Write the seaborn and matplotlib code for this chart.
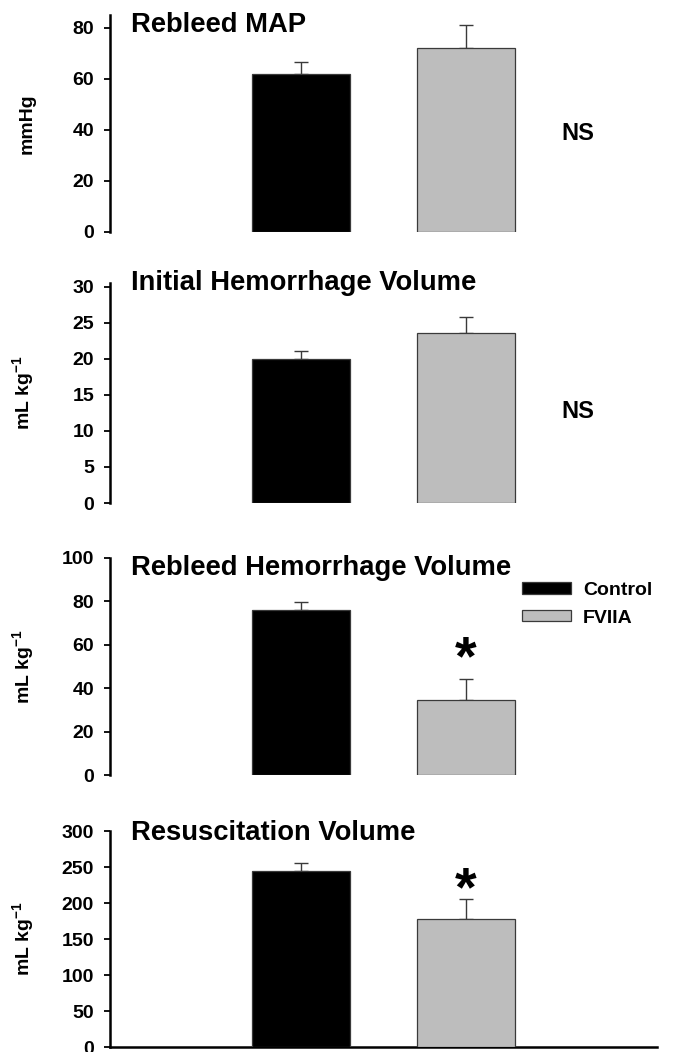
import matplotlib
matplotlib.use("Agg")
import matplotlib.pyplot as plt
import seaborn as sns
import pandas as pd

groups = ["Control", "FVIIA"]
colors = ["#000000", "#bdbdbd"]

titles = ["Rebleed MAP", "Initial Hemorrhage Volume", "Rebleed Hemorrhage Volume", "Resuscitation Volume"]
ylabels = ["mmHg", r"mL kg$^{\mathbf{-1}}$", r"mL kg$^{\mathbf{-1}}$", r"mL kg$^{\mathbf{-1}}$"]
rebleed_map = [62, 72]
rebleed_map_err = [4.7, 9.0]
initial_vol = [20.0, 23.6]
initial_vol_err = [1.1, 2.2]
rebleed_vol = [76, 34.6]
rebleed_vol_err = [3.7, 9.6]
resus_vol = [244, 178]
resus_vol_err = [11, 27]
yticks = [[0, 20, 40, 60, 80], [0, 5, 10, 15, 20, 25, 30], [0, 20, 40, 60, 80, 100], [0, 50, 100, 150, 200, 250, 300]]
ylims = [85, 30.5, 100, 300]
annotations = ["NS", "NS", "*", "*"]

sns.set_theme(style="ticks")
plt.rcParams["font.family"] = ["Liberation Sans", "DejaVu Sans"]
plt.rcParams["font.weight"] = "bold"
plt.rcParams["mathtext.fontset"] = "custom"
plt.rcParams["mathtext.rm"] = "Liberation Sans:bold"
plt.rcParams["mathtext.bf"] = "Liberation Sans:bold"
plt.rcParams["mathtext.default"] = "bf"
for k in ["text.color", "axes.labelcolor", "xtick.color", "ytick.color", "axes.edgecolor"]:
    plt.rcParams[k] = "#000000"

fig = plt.figure(figsize=(6.73, 10.52), dpi=100)
W, H = 673, 1052
left, right = 110, 657
# (top px of y max, bottom px of 0)
panels = [(15, 232), (283, 503), (558, 775), (831, 1047)]
title_baselines = [32, 290, 575, 840]
ns_px = [134, 411]
star_px = [654, 885]

values = [rebleed_map, initial_vol, rebleed_vol, resus_vol]
errors = [rebleed_map_err, initial_vol_err, rebleed_vol_err, resus_vol_err]

for i, (top, bot) in enumerate(panels):
    ax = fig.add_axes([left / W, 1 - bot / H, (right - left) / W, (bot - top) / H])
    df = pd.DataFrame({"group": groups, "value": values[i]})
    sns.barplot(data=df, x="group", y="value", hue="group", palette=colors,
                width=0.594, edgecolor="#3a3a3a", linewidth=0.9, ax=ax,
                legend=False, zorder=3, errorbar=None)
    ax.errorbar(range(len(groups)), values[i], yerr=[[0] * len(groups), errors[i]],
                fmt="none", ecolor="#3a3a3a", elinewidth=1.0, capsize=4.7, capthick=1.0, zorder=2)
    ax.set_xlim(-1.16, 2.16)
    ax.set_ylim(0, ylims[i])
    ax.set_yticks(yticks[i])
    ax.set_yticklabels([str(t) for t in yticks[i]], fontsize=14, fontweight="bold")
    ax.set_xticks([])
    ax.set_xlabel("")
    ax.set_ylabel(ylabels[i], fontsize=14, fontweight="bold")
    ax.yaxis.set_label_coords((36 - left) / (right - left), 0.5)
    ax.tick_params(axis="y", length=4.5, width=1.3, direction="out", pad=7)
    for s in ["top", "right"]:
        ax.spines[s].set_visible(False)
    ax.spines["left"].set_linewidth(1.8)
    if i < 3:
        ax.spines["bottom"].set_visible(False)
    else:
        ax.spines["bottom"].set_linewidth(1.8)
    fig.text(131 / W, 1 - title_baselines[i] / H, titles[i], fontsize=19.7,
             fontweight="bold", ha="left", va="baseline")
    ax.patch.set_alpha(0)
    if annotations[i] == "NS":
        yv = (bot - ns_px[i]) / (bot - top) * ylims[i]
        ax.text(1.68, yv, "NS", fontsize=17, fontweight="bold", ha="center", va="center")
    else:
        yv = (bot - star_px[i - 2]) / (bot - top) * ylims[i]
        ax.text(1, yv, "*", fontsize=40, fontweight="bold", ha="center", va="center_baseline")
    if i == 2:
        handles = [p for p in ax.patches][:2]
        leg = ax.legend(handles, groups, loc="upper left",
                        bbox_to_anchor=((522 - left) / (right - left), (bot - 582) / (bot - top)),
                        frameon=False, fontsize=14, handlelength=2.5, handleheight=0.52,
                        handletextpad=0.65, labelspacing=0.55, borderaxespad=0, borderpad=0)
        for t in leg.get_texts():
            t.set_fontweight("bold")

fig.savefig("out.png", dpi=100)
